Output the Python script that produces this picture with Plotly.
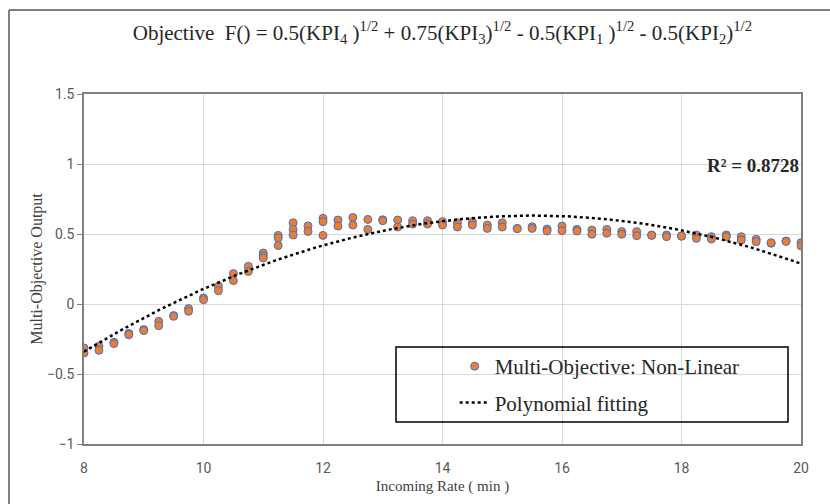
import numpy as np
import plotly.graph_objects as go

# ---- data ----
incoming_rate = [
    8, 8, 8.25, 8.25, 8.5, 8.5, 8.75, 8.75, 9, 9, 9.25, 9.25, 9.5, 9.5, 9.75, 9.75,
    10, 10, 10.25, 10.25, 10.5, 10.5, 10.75, 10.75, 11, 11, 11, 11.25, 11.25, 11.25,
    11.5, 11.5, 11.5, 11.75, 11.75, 12, 12, 12, 12.25, 12.25, 12.5, 12.5, 12.75, 12.75,
    13, 13, 13.25, 13.25, 13.5, 13.5, 13.75, 13.75, 14, 14, 14.25, 14.25, 14.5, 14.5,
    14.75, 14.75, 15, 15, 15.25, 15.25, 15.5, 15.5, 15.75, 15.75, 16, 16, 16.25, 16.25,
    16.5, 16.5, 16.75, 16.75, 17, 17, 17.25, 17.25, 17.5, 17.5, 17.75, 17.75, 18, 18,
    18.25, 18.25, 18.5, 18.5, 18.75, 18.75, 19, 19, 19.25, 19.25, 19.5, 19.5, 19.75, 19.75,
    20, 20,
]
objective_output = [
    -0.314, -0.35, -0.302, -0.331, -0.274, -0.283, -0.21, -0.22, -0.183, -0.19,
    -0.124, -0.155, -0.083, -0.088, -0.033, -0.052, 0.043, 0.031, 0.126, 0.095,
    0.217, 0.167, 0.269, 0.233, 0.364, 0.345, 0.329, 0.49, 0.471, 0.417,
    0.58, 0.532, 0.493, 0.558, 0.518, 0.612, 0.588, 0.49, 0.6, 0.557, 0.618, 0.564,
    0.604, 0.533, 0.602, 0.595, 0.6, 0.55, 0.595, 0.571, 0.595, 0.571, 0.588, 0.564,
    0.58, 0.55, 0.588, 0.564, 0.564, 0.54, 0.58, 0.55, 0.54, 0.538, 0.552, 0.54,
    0.535, 0.521, 0.557, 0.524, 0.533, 0.521, 0.528, 0.498, 0.533, 0.505,
    0.517, 0.498, 0.517, 0.488, 0.493, 0.49, 0.493, 0.481, 0.486, 0.484,
    0.493, 0.469, 0.481, 0.464, 0.493, 0.481, 0.481, 0.457, 0.462, 0.445,
    0.434, 0.438, 0.45, 0.447, 0.438, 0.415,
]
x_ticks = [8, 10, 12, 14, 16, 18, 20]
y_ticks = [-1, -0.5, 0, 0.5, 1, 1.5]
r_squared_label = "R² = 0.8728"

# polynomial (order 2) trendline computed from the data
coef = np.polyfit(incoming_rate, objective_output, 2)
fit_x = np.linspace(min(incoming_rate), max(incoming_rate), 200)
fit_y = np.polyval(coef, fit_x)

SERIF = "Liberation Serif, Times New Roman, serif"
SANS = "Roboto, Liberation Sans, sans-serif"

fig = go.Figure()
fig.add_trace(go.Scatter(
    x=incoming_rate, y=objective_output, mode="markers",
    name="Multi-Objective: Non-Linear", legendgroup="a",
    marker=dict(size=8, color="#ED7D31", line=dict(color="#4472C4", width=1)),
))
fig.add_trace(go.Scatter(
    x=fit_x, y=fit_y, mode="lines", name="Polynomial fitting", legendgroup="b",
    line=dict(color="#000000", width=2.5, dash="dot"),
))

fig.update_layout(
    width=830, height=504,
    margin=dict(l=84, r=29, t=94, b=60),
    paper_bgcolor="white", plot_bgcolor="white",
    title=dict(
        text="Objective  F() = 0.5(KPI<sub>4</sub> )<sup>1/2</sup> + 0.75(KPI<sub>3</sub>)<sup>1/2</sup>"
             " - 0.5(KPI<sub>1</sub> )<sup>1/2</sup> - 0.5(KPI<sub>2</sub>)<sup>1/2</sup>",
        x=0.533, xanchor="center", y=0.936, yanchor="middle",
        font=dict(family=SERIF, size=21, color="#262626"),
    ),
    xaxis=dict(
        range=[8, 20], tickvals=x_ticks, showgrid=True, gridcolor="#D9D9D9", gridwidth=1,
        zeroline=False, showline=True, linecolor="#808080", linewidth=1.5, mirror=True,
        ticks="", ticklabelstandoff=10,
        tickfont=dict(family=SANS, size=14, color="#595959"),
        title=dict(text="Incoming Rate ( min )", font=dict(family=SERIF, size=15, color="#404040"),
                   standoff=6),
    ),
    yaxis=dict(
        range=[-1, 1.5], tickvals=y_ticks, showgrid=True, gridcolor="#D9D9D9", gridwidth=1,
        zeroline=False, showline=True, linecolor="#808080", linewidth=1.5, mirror=True,
        ticks="outside", ticklen=5, tickcolor="#808080",
        tickfont=dict(family=SANS, size=14, color="#595959"),
        title=dict(text="Multi-Objective Output", font=dict(family=SERIF, size=16, color="#404040"),
                   standoff=0),
    ),
    legend=dict(
        x=0.517, xanchor="left", y=0.28, yanchor="top",
        bgcolor="rgba(0,0,0,0)", borderwidth=0,
        font=dict(family=SERIF, size=21, color="#262626"),
        traceorder="grouped", tracegroupgap=6,
    ),
    showlegend=True,
)

# legend frame, drawn as a box
fig.add_shape(type="rect", xref="paper", yref="paper",
              x0=(396 - 84) / 717, x1=(788 - 84) / 717,
              y0=(444 - 422) / 350, y1=(444 - 347) / 350,
              line=dict(color="#000000", width=1.5), fillcolor="rgba(0,0,0,0)")

# outer chart frame (top and left edges visible)
fig.add_shape(type="line", xref="paper", yref="paper",
              x0=(9 - 84) / 717, x1=(830 - 84) / 717, y0=(444 - 10) / 350, y1=(444 - 10) / 350,
              line=dict(color="#7F7F7F", width=2))
fig.add_shape(type="line", xref="paper", yref="paper",
              x0=(9 - 84) / 717, x1=(9 - 84) / 717, y0=(444 - 10) / 350, y1=(444 - 504) / 350,
              line=dict(color="#7F7F7F", width=2))

fig.add_annotation(
    text="<b>" + r_squared_label + "</b>", xref="paper", yref="paper",
    x=1.0, xanchor="right", y=0.797, yanchor="middle", showarrow=False,
    font=dict(family=SERIF, size=19, color="#262626"),
)

fig.write_html("out.html")
